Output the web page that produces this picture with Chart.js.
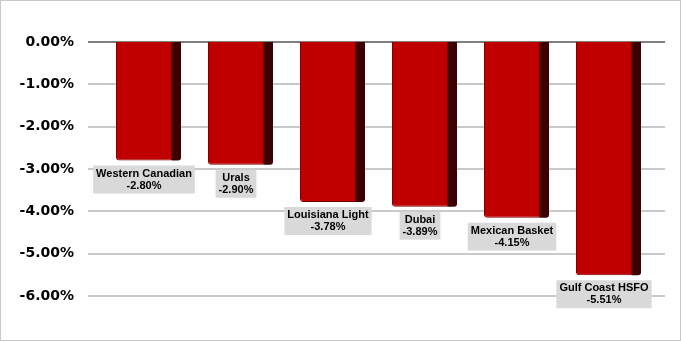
<!DOCTYPE html>
<html>
<head>
<meta charset="utf-8">
<script src="https://cdn.jsdelivr.net/npm/chart.js@4/dist/chart.umd.min.js"></script>
<style>
  body { margin: 0; background: #fff; }
  #wrap { width: 681px; height: 341px; }
</style>
</head>
<body>
<div id="wrap"><canvas id="myChart" width="681" height="341"></canvas></div>
<script>
const categories = ["Western Canadian", "Urals", "Louisiana Light", "Dubai", "Mexican Basket", "Gulf Coast HSFO"];
const changes = [-2.80, -2.90, -3.78, -3.89, -4.15, -5.51];
const yTicks = [0, -1, -2, -3, -4, -5, -6];

// frame + extended gridlines
const gridPlugin = {
    id: "grid",
    beforeDatasetsDraw(chart) {
        const ctx = chart.ctx;
        const y = chart.scales.y;
        ctx.save();
        yTicks.forEach(function (v) {
            const py = Math.round(y.getPixelForValue(v));
            ctx.beginPath();
            ctx.strokeStyle = v === 0 ? "#7f7f7f" : "#c9c9c9";
            ctx.lineWidth = 2;
            ctx.moveTo(88, py);
            ctx.lineTo(665, py);
            ctx.stroke();
        });
        ctx.restore();
    },
    afterDraw(chart) {
        const ctx = chart.ctx;
        ctx.save();
        ctx.strokeStyle = "#c8c8c8";
        ctx.lineWidth = 1;
        ctx.strokeRect(0.5, 0.5, chart.width - 1, chart.height - 1);
        ctx.restore();
    }
};

// dark side face and the grey label boxes
const barExtras = {
    id: "barExtras",
    afterDatasetsDraw(chart) {
        const ctx = chart.ctx;
        const meta = chart.getDatasetMeta(0);
        const zero = chart.scales.y.getPixelForValue(0);
        ctx.save();
        meta.data.forEach(function (bar, i) {
            const right = bar.x + bar.width / 2;
            // side face
            ctx.fillStyle = "#3d0000";
            ctx.beginPath();
            ctx.moveTo(right, zero);
            ctx.lineTo(right + 9, zero);
            ctx.lineTo(right + 9, bar.y - 3);
            ctx.quadraticCurveTo(right + 9, bar.y, right + 6, bar.y);
            ctx.lineTo(right, bar.y);
            ctx.closePath();
            ctx.fill();

            // label box
            const name = categories[i];
            const val = changes[i].toFixed(2) + "%";
            ctx.font = "bold 11px 'Liberation Sans', Arial, sans-serif";
            const w = Math.max(ctx.measureText(name).width, ctx.measureText(val).width) + 6;
            const top = bar.y + 5;
            ctx.fillStyle = "#d9d9d9";
            ctx.fillRect(bar.x - w / 2, top, w, 28);
            ctx.fillStyle = "#000";
            ctx.textAlign = "center";
            ctx.textBaseline = "middle";
            ctx.fillText(name, bar.x, top + 8);
            ctx.fillText(val, bar.x, top + 20);
        });
        ctx.restore();
    }
};

const chart = new Chart(document.getElementById("myChart").getContext("2d"), {
    type: "bar",
    data: {
        labels: categories,
        datasets: [{
            data: changes,
            backgroundColor: "#c00000",
            borderColor: "#7a0000",
            borderWidth: 1,
            borderRadius: { bottomLeft: 3, bottomRight: 0, topLeft: 0, topRight: 0 },
            borderSkipped: "start",
            barPercentage: 56 / 92,
            categoryPercentage: 1
        }]
    },
    options: {
        responsive: false,
        animation: false,
        layout: { padding: { top: 42, bottom: 45, left: 0, right: 31 } },
        plugins: { legend: { display: false }, tooltip: { enabled: false } },
        scales: {
            x: { display: false },
            y: {
                min: -6,
                max: 0,
                afterFit(scale) { scale.width = 98; },
                grid: { display: false },
                border: { display: false },
                ticks: {
                    stepSize: 1,
                    padding: 16,
                    color: "#000",
                    font: { family: "'DejaVu Sans', Verdana, sans-serif", size: 14, weight: "bold" },
                    callback: function (v) { return v.toFixed(2) + "%"; }
                }
            }
        }
    },
    plugins: [gridPlugin, barExtras]
});
</script>
</body>
</html>
